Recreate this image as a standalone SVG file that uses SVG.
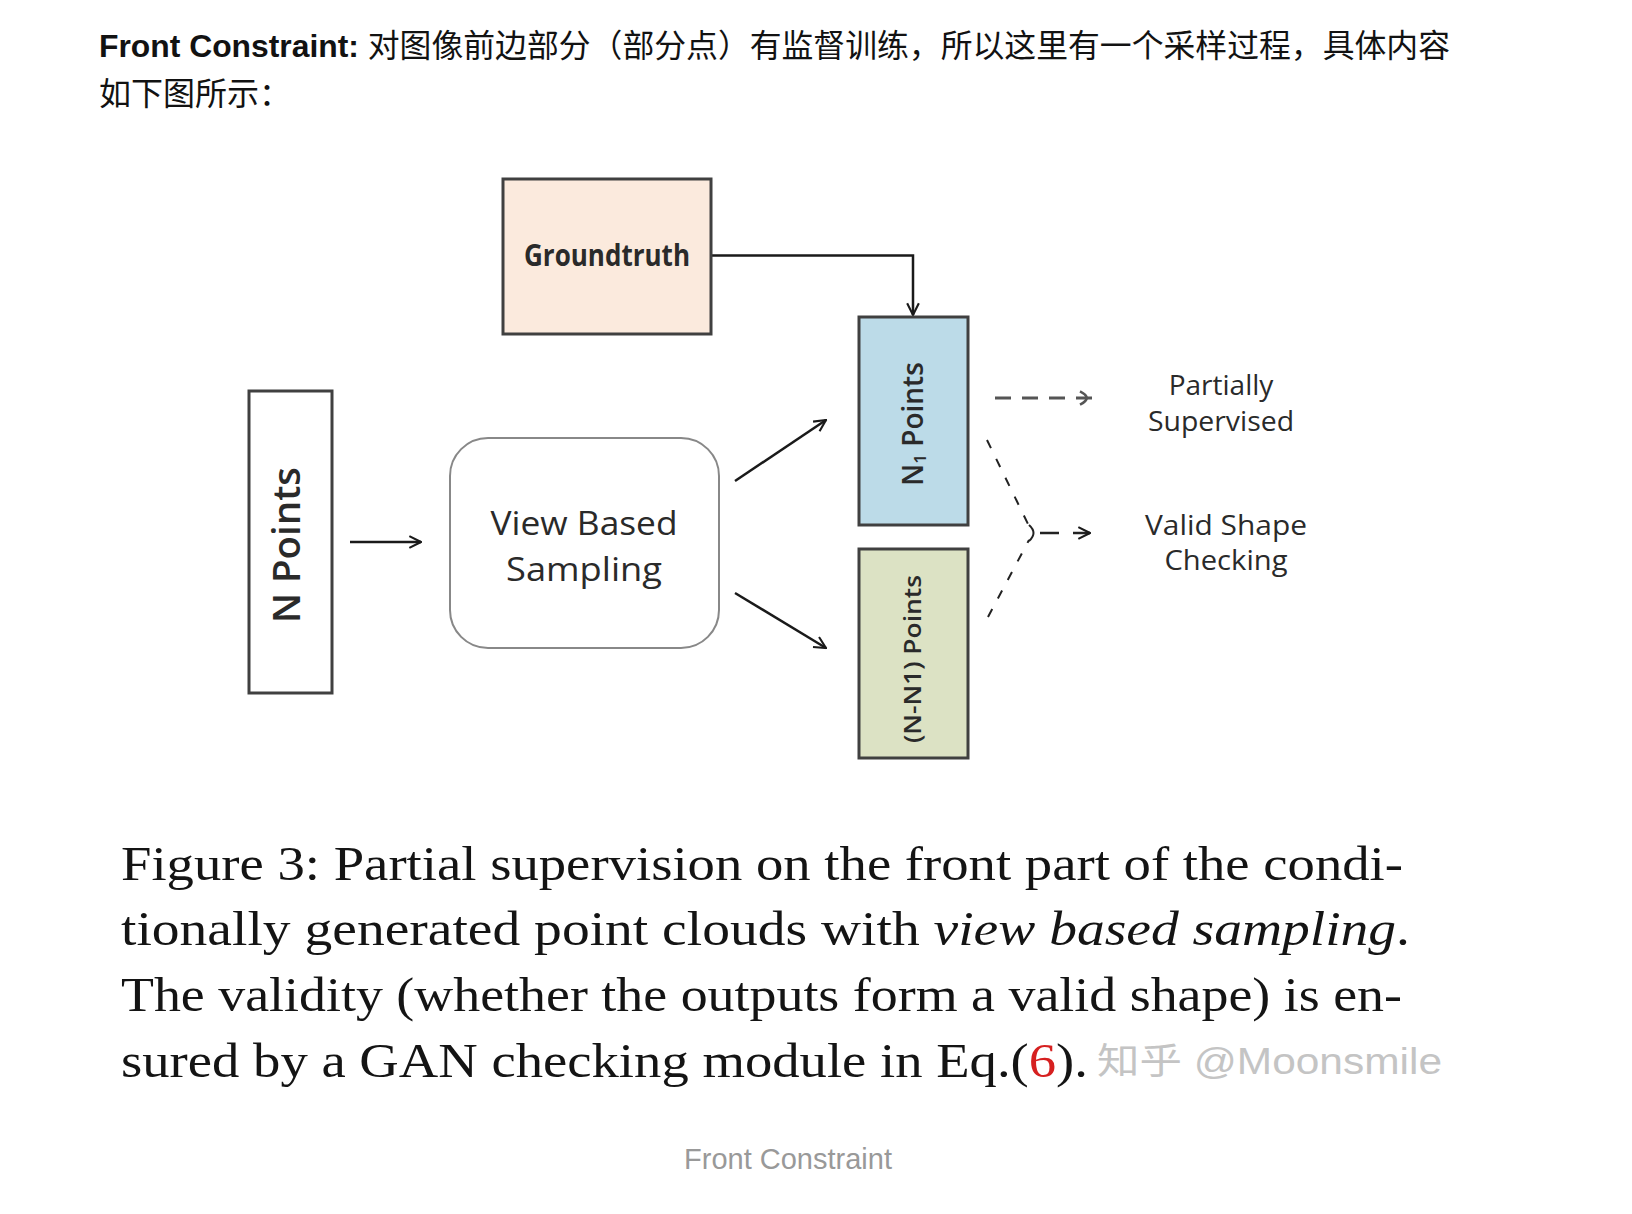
<svg xmlns="http://www.w3.org/2000/svg" width="1632" height="1214" viewBox="0 0 1632 1214">
<defs>
<style>
.head{font-family:"Liberation Sans","Noto Sans CJK SC",sans-serif;font-size:32px;fill:#121212}
.box{stroke:#404040;stroke-width:3}
.dia{font-family:"Open Sans","Noto Sans",sans-serif;fill:#2a2a2a}
.cap{font-family:"Liberation Serif",serif;font-size:49px;fill:#141414}
.conn{fill:none;stroke:#1a1a1a;stroke-width:2.5}
.dash{fill:none;stroke:#555;stroke-width:3;stroke-dasharray:16 11}
.dash2{fill:none;stroke:#222;stroke-width:2;stroke-dasharray:9 12}
</style>
<marker id="chev" viewBox="0 0 12 12" refX="11" refY="6" markerWidth="14" markerHeight="14" markerUnits="userSpaceOnUse" orient="auto">
<path d="M1,1 L11,6 L1,11" fill="none" stroke="#1a1a1a" stroke-width="1.8"/>
</marker>
<marker id="chevg" viewBox="0 0 12 12" refX="11" refY="6" markerWidth="16" markerHeight="16" markerUnits="userSpaceOnUse" orient="auto">
<path d="M2,1 Q12,6 2,11" fill="none" stroke="#555" stroke-width="2"/>
</marker>
</defs>
<rect width="1632" height="1214" fill="#ffffff"/>

<g id="heading">
<text class="head" x="99" y="57" textLength="1351" lengthAdjust="spacingAndGlyphs"><tspan font-weight="bold">Front Constraint:</tspan> 对图像前边部分（部分点）有监督训练，所以这里有一个采样过程，具体内容</text>
<text class="head" x="99" y="105">如下图所示：</text>
</g>

<g id="connectors">
<path class="conn" d="M711,255.5 H913 V315" stroke="#555" marker-end="url(#chev)"/>
<line class="conn" x1="350" y1="542" x2="421" y2="542" marker-end="url(#chev)"/>
<line class="conn" x1="735" y1="481" x2="826" y2="420" marker-end="url(#chev)"/>
<line class="conn" x1="735" y1="593" x2="826" y2="648" marker-end="url(#chev)"/>
<line class="dash" x1="995" y1="398" x2="1092" y2="398" marker-end="url(#chevg)"/>
<line class="dash2" x1="987" y1="440" x2="1029" y2="526"/>
<line class="dash2" x1="988" y1="617" x2="1029" y2="540"/>
<path d="M1029,525 Q1038,533 1029,541" fill="none" stroke="#222" stroke-width="2"/>
<line x1="1040" y1="533" x2="1090" y2="533" stroke="#222" stroke-width="2.5" stroke-dasharray="19 14" marker-end="url(#chev)"/>
</g>

<g id="groundtruth">
<rect class="box" x="503" y="179" width="208" height="155" fill="#fbeadd"/>
<text class="dia" x="607" y="266" font-size="31" font-weight="bold" text-anchor="middle" textLength="166" lengthAdjust="spacingAndGlyphs" fill="#111">Groundtruth</text>
</g>

<g id="n-points">
<rect class="box" x="249" y="391" width="83" height="302" fill="#ffffff"/>
<text class="dia" transform="translate(300,545) rotate(-90)" font-size="38" font-weight="600" text-anchor="middle" textLength="156" lengthAdjust="spacingAndGlyphs" fill="#111">N Points</text>
</g>

<g id="view-based-sampling">
<rect x="450" y="438" width="269" height="210" rx="38" ry="38" fill="#ffffff" stroke="#888" stroke-width="2"/>
<text class="dia" x="584" y="535" font-size="32" text-anchor="middle" textLength="187" lengthAdjust="spacingAndGlyphs">View Based</text>
<text class="dia" x="584" y="581" font-size="32" text-anchor="middle" textLength="156" lengthAdjust="spacingAndGlyphs">Sampling</text>
</g>

<g id="n1-points">
<rect class="box" x="859" y="317" width="109" height="208" fill="#bcdbe8"/>
<text class="dia" transform="translate(923,424) rotate(-90)" font-size="28" font-weight="600" text-anchor="middle" fill="#111">N<tspan font-size="17" dy="3">1</tspan><tspan dy="-3"> Points</tspan></text>
</g>

<g id="n-n1-points">
<rect class="box" x="859" y="549" width="109" height="209" fill="#dce2c4"/>
<text class="dia" transform="translate(921,659) rotate(-90)" font-size="24" font-weight="600" text-anchor="middle" textLength="168" lengthAdjust="spacingAndGlyphs" fill="#111">(N-N1) Points</text>
</g>

<g id="partially-supervised">
<text class="dia" x="1221" y="395" font-size="28" text-anchor="middle">Partially</text>
<text class="dia" x="1221" y="431" font-size="28" text-anchor="middle" textLength="146" lengthAdjust="spacingAndGlyphs">Supervised</text>
</g>

<g id="valid-shape-checking">
<text class="dia" x="1226" y="535" font-size="28" text-anchor="middle" textLength="162" lengthAdjust="spacingAndGlyphs">Valid Shape</text>
<text class="dia" x="1226" y="570" font-size="28" text-anchor="middle" textLength="123" lengthAdjust="spacingAndGlyphs">Checking</text>
</g>

<g id="figure-caption">
<text class="cap" x="121" y="880" textLength="1282" lengthAdjust="spacingAndGlyphs">Figure 3: Partial supervision on the front part of the condi-</text>
<text class="cap" x="121" y="945" textLength="1289" lengthAdjust="spacingAndGlyphs">tionally generated point clouds with <tspan font-style="italic">view based sampling</tspan>.</text>
<text class="cap" x="121" y="1011" textLength="1281" lengthAdjust="spacingAndGlyphs">The validity (whether the outputs form a valid shape) is en-</text>
<text class="cap" x="121" y="1077" textLength="967" lengthAdjust="spacingAndGlyphs">sured by a GAN checking module in Eq.(<tspan fill="#d62020">6</tspan>).</text>
<text x="1097" y="1074" font-family="Liberation Sans,'Noto Sans CJK SC',sans-serif" font-size="36" fill="#c4c4c4" textLength="345" lengthAdjust="spacingAndGlyphs">知乎 @Moonsmile</text>
</g>

<g id="bottom-caption">
<text x="788" y="1169" font-family="Liberation Sans,'Noto Sans CJK SC',sans-serif" font-size="29" fill="#999999" text-anchor="middle">Front Constraint</text>
</g>
</svg>
